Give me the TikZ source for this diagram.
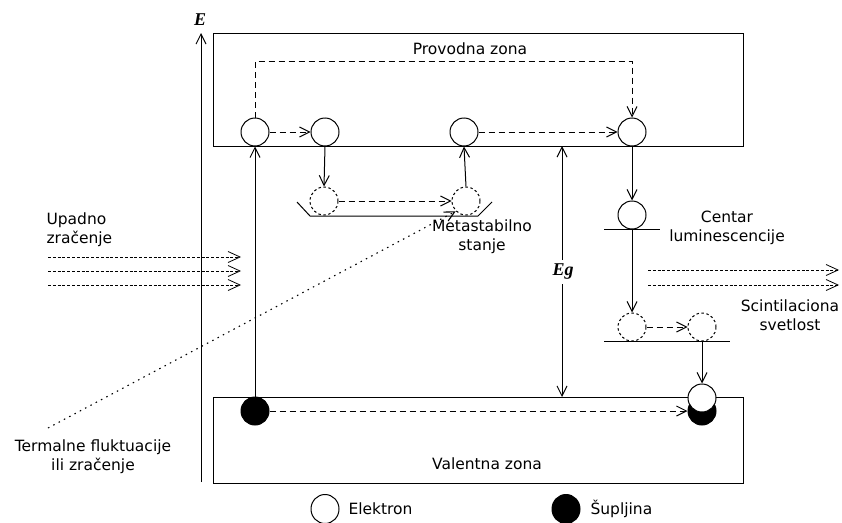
\documentclass[tikz,border=0pt]{standalone}
\usepackage{fontspec}
\setmainfont{DejaVu Sans}
\newfontfamily\labserif{Liberation Serif}
\usetikzlibrary{arrows.meta,shapes.geometric}
\begin{document}
\begin{tikzpicture}[x=1pt,y=-1pt,line width=1pt,
  >={Straight Barb[length=10pt,width=10pt]},
  every node/.style={font=\fontsize{15.5}{19}\selectfont},
  el/.style={draw,circle,minimum size=28pt,inner sep=0pt,fill=white},
  delc/.style={draw,circle,minimum size=28pt,inner sep=0pt,dash pattern=on 2.5pt off 2.5pt},
  hole/.style={draw,ellipse,fill=black,minimum width=28pt,minimum height=28pt,inner sep=0pt},
  elleg/.style={draw,ellipse,fill=white,minimum width=28pt,minimum height=29pt,inner sep=0pt},
  dsh/.style={->,dash pattern=on 6pt off 4pt},
  fine/.style={-{Straight Barb[length=12pt,width=11pt]},dash pattern=on 3pt off 1.8pt,line width=0.8pt},
  dotl/.style={->,dash pattern=on 1.5pt off 4.5pt,line width=1.1pt},
  lbl/.style={align=center,inner sep=0pt},
  mlab/.style={font=\labserif\itshape\bfseries\fontsize{18}{20}\selectfont}]
\useasboundingbox (0,0) rectangle (842,522);
% bands
\node[draw,minimum width=530pt,minimum height=113pt,inner sep=0pt,anchor=north west] (cb) at (213,33) {};
\node[draw,minimum width=530pt,minimum height=86pt,inner sep=0pt,anchor=north west] (vb) at (213,397) {};
\node[lbl] (cbt) at (470,49) {Provodna zona};
\node[lbl] (vbt) at (487,464) {Valentna zona};
% energy axis
\coordinate (ea) at (201,482);
\coordinate (eb) at (201,33);
\draw[->] (ea) -- (eb);
\node[lbl,mlab] (elab) at (200,20) {E};
% holes (bottom)
\node[hole] (lh) at (255,411) {};
\node[hole] (rh) at (702,411) {};
\node[el] (re) at (702,398) {};
% conduction electrons
\node[el] (c1) at (255,132) {};
\node[el] (c2) at (325,132) {};
\node[el] (c3) at (464,132) {};
\node[el] (c4) at (632,132) {};
\coordinate (tl) at (255,61);
\draw[dsh] (c1.north) -- (tl) -| (c4.north);
\draw[dsh] (c1) -- (c2);
\draw[dsh] (c3) -- (c4);
\draw[->] (lh.north) -- (c1.south);
% metastable
\node[delc] (m1) at (324,201) {};
\node[delc] (m2) at (466,201) {};
\coordinate (ml1) at (297,202);
\coordinate (ml2) at (310,216);
\coordinate (ml3) at (478,216);
\coordinate (ml4) at (492,202);
\draw (ml1) -- (ml2) -- (ml3) -- (ml4);
\draw[->] (c2.south) -- (m1.north);
\draw[dsh] (m1) -- (m2);
\draw[->] (m2.north) -- (c3.south);
\node[lbl] (mt) at (482,237) {Metastabilno\\stanje};
% thermal
\coordinate (ts) at (48,428);
\draw[dotl] (ts) -- (m2.south west);
\node[lbl] (tt) at (93,457) {Termalne fluktuacije\\ili zra\v{c}enje};
% Eg
\coordinate (g1) at (562,146);
\coordinate (g2) at (562,397);
\draw[<->] (g1) -- (g2);
\node[lbl,mlab,fill=white,inner xsep=1pt,inner ysep=4pt] (eg) at (563,272) {Eg};
% luminescence centre
\node[el] (lc) at (632,215) {};
\coordinate (lc1) at (604,229);
\coordinate (lc2) at (660,229);
\coordinate (lcm) at (632,229);
\draw (lc1) -- (lc2);
\draw[->] (c4.south) -- (lc.north);
\node[lbl] (lct) at (727,228) {Centar\\luminescencije};
\node[delc] (d1) at (632,327) {};
\node[delc] (d2) at (702,327) {};
\coordinate (dl1) at (604,341);
\coordinate (dl2) at (730,341);
\coordinate (dlm) at (702,341);
\draw (dl1) -- (dl2);
\draw[->] (lcm) -- (d1.north);
\draw[dsh] (d1) -- (d2);
\draw[->] (dlm) -- (re.north);
\draw[dsh] (lh.east) -- (rh.west);
% scintillation light
\coordinate (s1) at (648,270);
\coordinate (s2) at (839,270);
\coordinate (s3) at (648,285);
\coordinate (s4) at (839,285);
\draw[fine] (s1) -- (s2);
\draw[fine] (s3) -- (s4);
\node[lbl] (st) at (790,315) {Scintilaciona\\svetlost};
% incident radiation
\node[lbl,align=left,anchor=west] (ut) at (46,230) {Upadno\\zra\v{c}enje};
\coordinate (u1) at (48,257);
\coordinate (u2) at (241,257);
\coordinate (u3) at (48,271);
\coordinate (u4) at (241,271);
\coordinate (u5) at (48,285);
\coordinate (u6) at (241,285);
\draw[fine] (u1) -- (u2);
\draw[fine] (u3) -- (u4);
\draw[fine] (u5) -- (u6);
% legend
\node[elleg] (le) at (325,509) {};
\node[lbl,anchor=west] (let) at (348,509) {Elektron};
\node[hole,minimum height=29pt] (lhh) at (566,509) {};
\node[lbl,anchor=west] (lht) at (590,509) {\v{S}upljina};
\end{tikzpicture}
\end{document}
